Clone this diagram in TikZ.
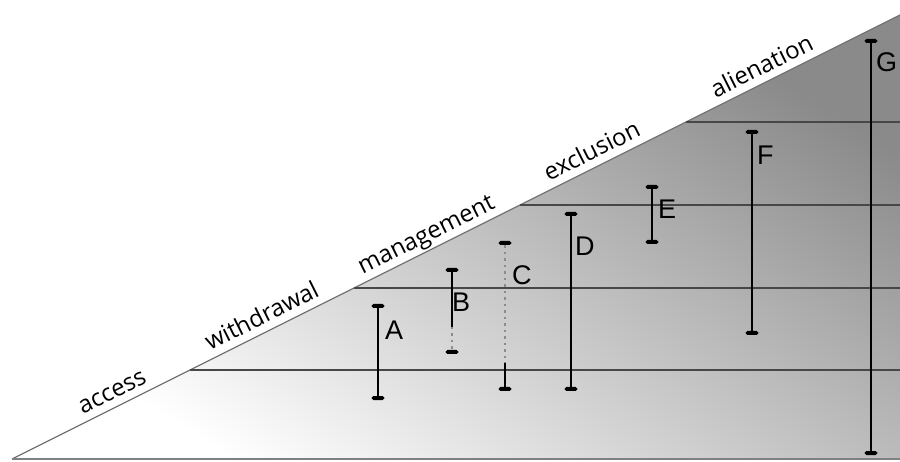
\documentclass[tikz,border=0pt]{standalone}
\usepackage{fontspec}
\setmainfont{Open Sans}
\newfontfamily\letterfont{Liberation Sans}
\begin{document}
\begin{tikzpicture}[x=1pt,y=-1pt,
  hline/.style={draw=black!72, line width=1.6pt},
  bar/.style={draw=black, line width=1.3pt},
  dotbar/.style={draw=black!45, line width=1.6pt, dash pattern=on 2.5pt off 4pt},
  endbar/.style={shape=rectangle, rounded corners=1.8pt, fill=black, inner sep=0pt,
    minimum width=13pt, minimum height=4pt},
  slopelabel/.style={rotate=26.565, anchor=base, inner sep=0pt, font=\fontsize{24}{24}\selectfont},
  letter/.style={anchor=west, inner sep=0pt, font=\letterfont\fontsize{27}{27}\selectfont}
]
\useasboundingbox (0,0) rectangle (900,462);
% triangle
\coordinate (bl) at (12,459);
\coordinate (tr) at (900,15);
\coordinate (br) at (900,459);
\shade[top color=black!46, bottom color=white, shading angle=-32] (bl) -- (tr) -- (br) -- cycle;
\draw[black!55, line width=1.2pt] (bl) -- (tr);
\draw[black!50, line width=1.6pt] (bl) -- (br);
% horizontal levels
\coordinate (h1) at (190,370); \coordinate (h1r) at (900,370);
\coordinate (h2) at (354,288); \coordinate (h2r) at (900,288);
\coordinate (h3) at (520,205); \coordinate (h3r) at (900,205);
\coordinate (h4) at (686,122); \coordinate (h4r) at (900,122);
\draw[hline] (h1) -- (h1r);
\draw[hline] (h2) -- (h2r);
\draw[hline] (h3) -- (h3r);
\draw[hline] (h4) -- (h4r);
% slope labels
\node[slopelabel] (l1) at (115.4,398.3) {access};
\node[slopelabel] (l2) at (265.4,323.3) {withdrawal};
\node[slopelabel] (l3) at (429.4,241.3) {management};
\node[slopelabel] (l4) at (595.4,158.3) {exclusion};
\node[slopelabel] (l5) at (765.4,73.3) {alienation};
% interval A
\node[endbar] (At) at (378,306) {};
\node[endbar] (Ab) at (378,398) {};
\draw[bar] (At) -- (Ab);
\node[letter] (A) at (385,330) {A};
% interval B
\node[endbar] (Bt) at (452,270) {};
\node[endbar] (Bb) at (452,352) {};
\coordinate (Bm) at (452,327);
\draw[bar] (Bt) -- (Bm);
\draw[dotbar] (Bm) -- (Bb);
\node[letter] (B) at (452,302) {B};
% interval C
\node[endbar] (Ct) at (505,243) {};
\node[endbar] (Cb) at (505,389) {};
\coordinate (Cm) at (505,363);
\draw[dotbar] (Ct) -- (Cm);
\draw[bar] (Cm) -- (Cb);
\node[letter] (C) at (512,275) {C};
% interval D
\node[endbar] (Dt) at (571,214) {};
\node[endbar] (Db) at (571,389) {};
\draw[bar] (Dt) -- (Db);
\node[letter] (D) at (575,246) {D};
% interval E
\node[endbar] (Et) at (652,187) {};
\node[endbar] (Eb) at (652,242) {};
\draw[bar] (Et) -- (Eb);
\node[letter] (E) at (658,209) {E};
% interval F
\node[endbar] (Ft) at (752,132) {};
\node[endbar] (Fb) at (752,333) {};
\draw[bar] (Ft) -- (Fb);
\node[letter] (F) at (757,155) {F};
% interval G
\node[endbar] (Gt) at (871,41) {};
\node[endbar] (Gb) at (871,453) {};
\draw[bar] (Gt) -- (Gb);
\node[letter] (G) at (876,62) {G};
\end{tikzpicture}
\end{document}
